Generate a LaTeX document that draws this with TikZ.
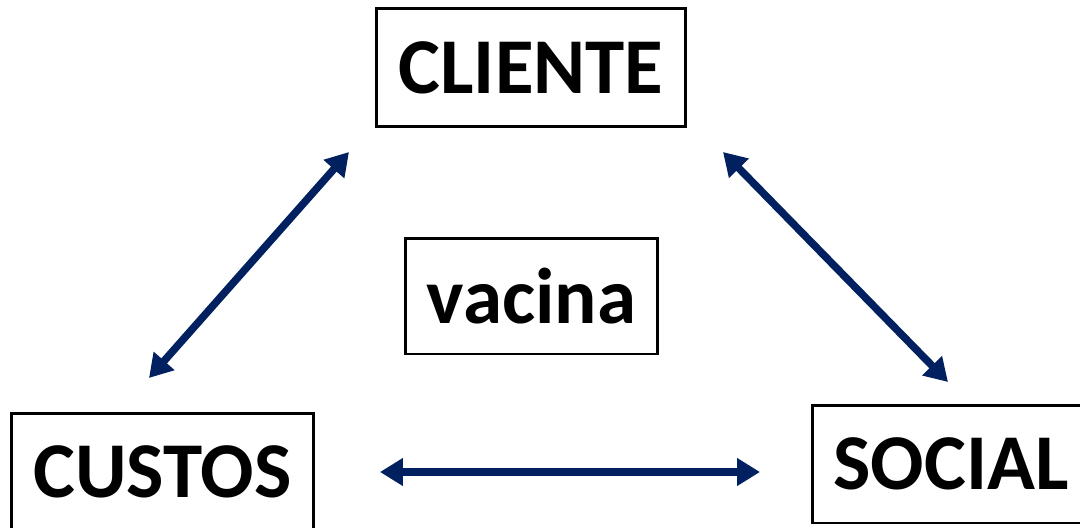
\documentclass[tikz,border=0pt]{standalone}
\usepackage{fontspec}
\setmainfont{Carlito}
\usetikzlibrary{arrows.meta}
\definecolor{navy}{HTML}{002060}
\begin{document}
\begin{tikzpicture}[x=0.02cm, y=-0.02cm,
    box/.style={draw, line width=1.7pt, inner sep=0pt, font=\fontsize{45}{45}\selectfont\bfseries},
    link/.style={navy, line width=4.3pt, {Triangle[width=15pt,length=13pt]}-{Triangle[width=15pt,length=13pt]}}]
    \useasboundingbox (0,0) rectangle (1080,528);
    \node at (531,67.5) [box, minimum width=6.2cm, minimum height=2.38cm] (cliente) {CLIENTE};
    \node at (531.5,296) [box, minimum width=5.06cm, minimum height=2.32cm] (vacina) {vacina};
    \node at (162.5,472) [box, minimum width=6.06cm, minimum height=2.36cm] (custos) {CUSTOS};
    \node at (951,464) [box, minimum width=5.56cm, minimum height=2.36cm] (social) {SOCIAL};
    \coordinate (a1) at (149,378);
    \coordinate (a2) at (349,152);
    \coordinate (b1) at (723,152);
    \coordinate (b2) at (948,382);
    \coordinate (c1) at (380,472);
    \coordinate (c2) at (760,472);
    \draw[link] (a1) -- (a2);
    \draw[link] (b1) -- (b2);
    \draw[link] (c1) -- (c2);
\end{tikzpicture}
\end{document}
